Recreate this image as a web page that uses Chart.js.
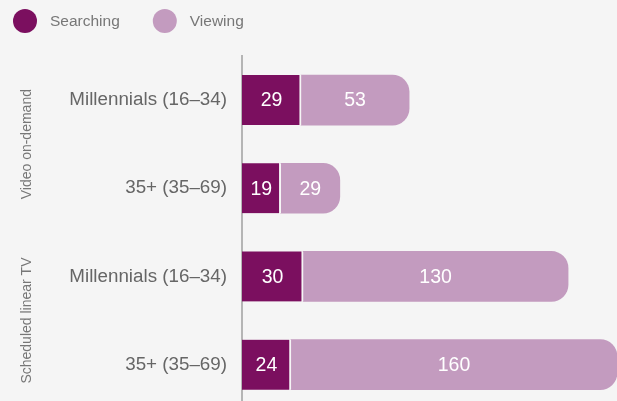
<!DOCTYPE html>
<html>
<head>
<meta charset="utf-8">
<script src="https://cdn.jsdelivr.net/npm/chart.js@4/dist/chart.umd.min.js"></script>
<style>
  html, body { margin: 0; padding: 0; background: #f5f5f5; overflow: hidden; }
</style>
</head>
<body>
<canvas id="myChart" width="617" height="427"></canvas>
<script>
const categories = ['Millennials (16\u201334)', '35+ (35\u201369)', 'Millennials (16\u201334)', '35+ (35\u201369)'];
const groups = ['Video on-demand', 'Scheduled linear TV'];
const searching = [29, 19, 30, 24];
const viewing = [53, 29, 130, 160];

const FONT = 'Liberation Sans, Arial, Helvetica, sans-serif';

// white numbers in the middle of each bar
const barLabels = {
    id: 'barLabels',
    afterDatasetsDraw(chart) {
        const ctx = chart.ctx;
        ctx.save();
        ctx.fillStyle = '#fff';
        ctx.font = '19.5px ' + FONT;
        ctx.textAlign = 'center';
        ctx.textBaseline = 'middle';
        chart.data.datasets.forEach((ds, i) => {
            chart.getDatasetMeta(i).data.forEach((bar, j) => {
                ctx.fillText(ds.data[j], (bar.x + bar.base) / 2, bar.y + 1);
            });
        });
        ctx.restore();
    }
};

// rotated group names at the far left
const groupLabels = {
    id: 'groupLabels',
    afterDraw(chart) {
        const ctx = chart.ctx;
        const y = chart.scales.y;
        ctx.save();
        ctx.fillStyle = '#777';
        ctx.font = '14px ' + FONT;
        ctx.textAlign = 'center';
        ctx.textBaseline = 'middle';
        groups.forEach((g, i) => {
            const mid = (y.getPixelForValue(i * 2) + y.getPixelForValue(i * 2 + 1)) / 2;
            ctx.save();
            ctx.translate(27, mid);
            ctx.rotate(-Math.PI / 2);
            ctx.fillText(g, 0, 0);
            ctx.restore();
        });
        ctx.restore();
    }
};

// legend with big dots, top left
const dotLegend = {
    id: 'dotLegend',
    afterDraw(chart) {
        const ctx = chart.ctx;
        ctx.save();
        ctx.font = '15.5px ' + FONT;
        ctx.textBaseline = 'middle';
        let x = 13;
        chart.data.datasets.forEach(ds => {
            ctx.fillStyle = ds.backgroundColor;
            ctx.beginPath();
            ctx.arc(x + 12, 21, 12, 0, Math.PI * 2);
            ctx.fill();
            ctx.fillStyle = '#777';
            ctx.fillText(ds.label, x + 37, 22);
            x += 37 + ctx.measureText(ds.label).width + 33;
        });
        ctx.restore();
    }
};

const ctx = document.getElementById('myChart').getContext('2d');
const myChart = new Chart(ctx, {
    type: 'bar',
    data: {
        labels: categories,
        datasets: [{
            label: 'Searching',
            data: searching,
            backgroundColor: '#7b0f5f',
            borderColor: '#f5f5f5',
            borderWidth: { top: 0, right: 2, bottom: 0, left: 0 },
            borderSkipped: false,
            barThickness: 50
        }, {
            label: 'Viewing',
            data: viewing,
            backgroundColor: '#c39bbf',
            borderRadius: { topLeft: 0, bottomLeft: 0, topRight: 17, bottomRight: 17 },
            borderSkipped: false,
            barThickness: 50
        }]
    },
    options: {
        indexAxis: 'y',
        responsive: false,
        animation: false,
        layout: { padding: { top: 56, left: 0, right: 0, bottom: 0 } },
        scales: {
            x: {
                stacked: true,
                display: false,
                min: 0,
                max: 184
            },
            y: {
                stacked: true,
                grid: { display: false },
                border: { display: true, color: '#b5b5b5', width: 2 },
                ticks: {
                    color: '#666',
                    font: { family: FONT, size: 18.8 },
                    padding: 7
                },
                afterFit(scale) { scale.width = 242; }
            }
        },
        plugins: {
            legend: { display: false },
            tooltip: { enabled: false }
        }
    },
    plugins: [barLabels, groupLabels, dotLegend]
});
</script>
</body>
</html>
